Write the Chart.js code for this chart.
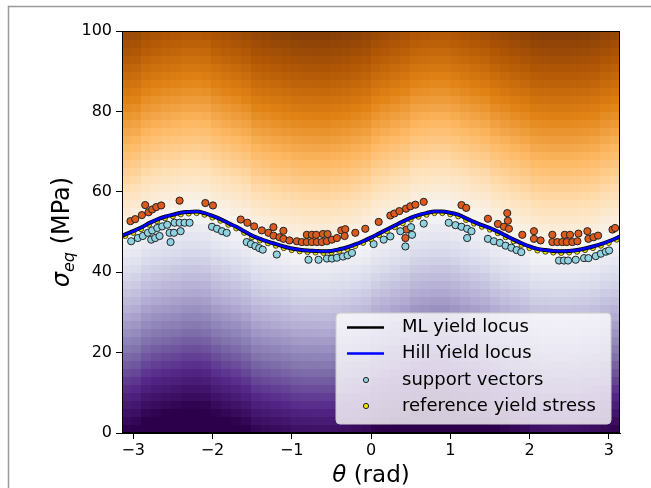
<!DOCTYPE html>
<html lang="en">
<head>
  <meta charset="UTF-8">
  <title>Yield locus</title>
  <style>
    html, body { margin: 0; padding: 0; background: #fff; }
    #wrap { width: 651px; height: 488px; }
  </style>
  <script src="https://cdn.jsdelivr.net/npm/chart.js"></script>
</head>
<body>
<div id="wrap"><canvas id="myChart" width="651" height="488"></canvas></div>
<script>
  // ---- values ----
  const xTicks = [-3, -2, -1, 0, 1, 2, 3];
  const yTicks = [0, 20, 40, 60, 80, 100];
  const legendLabels = ['ML yield locus', 'Hill Yield locus', 'support vectors', 'reference yield stress'];

  // yield locus (theta in rad, sigma_eq in MPa)
  const locusTheta = [-3.14, -3.1, -3.0, -2.9, -2.8, -2.7, -2.6, -2.5, -2.4, -2.3, -2.2, -2.1, -2.0, -1.9, -1.8, -1.7, -1.6, -1.5, -1.4, -1.3, -1.2, -1.1, -1.0, -0.9, -0.8, -0.7, -0.6, -0.5, -0.4, -0.3, -0.2, -0.1,
    0, 0.1, 0.2, 0.3, 0.4, 0.5, 0.6, 0.7, 0.8, 0.9, 1.0, 1.1, 1.2, 1.3, 1.4, 1.5, 1.6, 1.7, 1.8, 1.9, 2.0, 2.1, 2.2, 2.3, 2.4, 2.5, 2.6, 2.7, 2.8, 2.9, 3.0, 3.1, 3.14];
  const mlSigma = [49.0, 49.4, 50.2, 51.1, 52.2, 53.1, 53.8, 54.3, 54.8, 55.0, 55.1, 54.7, 54.0, 53.2, 52.2, 51.3, 50.2, 49.1, 48.3, 47.6, 47.0, 46.4, 45.9, 45.6, 45.4, 45.3, 45.2, 45.3, 45.7, 46.2, 46.9, 47.7,
    48.6, 49.6, 50.6, 51.6, 52.6, 53.5, 54.2, 54.7, 55.1, 55.1, 54.8, 54.3, 53.4, 52.5, 51.7, 51.0, 50.1, 49.1, 48.1, 47.2, 46.4, 45.8, 45.5, 45.3, 45.2, 45.3, 45.5, 45.9, 46.4, 47.0, 47.7, 48.5, 48.9];
  const hillSigma = [49.0, 49.4, 50.2, 51.1, 52.2, 53.1, 53.8, 54.3, 54.8, 55.0, 55.1, 54.7, 54.0, 53.2, 52.2, 51.3, 50.2, 49.1, 48.3, 47.6, 47.0, 46.4, 45.9, 45.6, 45.4, 45.3, 45.2, 45.3, 45.7, 46.2, 46.9, 47.7,
    48.6, 49.6, 50.6, 51.6, 52.6, 53.5, 54.2, 54.7, 55.1, 55.1, 54.8, 54.3, 53.4, 52.5, 51.7, 51.0, 50.1, 49.1, 48.1, 47.2, 46.4, 45.8, 45.5, 45.3, 45.2, 45.3, 45.5, 45.9, 46.4, 47.0, 47.7, 48.5, 48.9];

  // reference yield stress points
  const refTheta = [-3.1, -3.0, -2.9, -2.8, -2.7, -2.6, -2.5, -2.4, -2.3, -2.2, -2.1, -2.0, -1.9, -1.8, -1.7, -1.6, -1.5, -1.4, -1.3, -1.2, -1.1, -1.0, -0.9, -0.8, -0.7, -0.6, -0.5, -0.4, -0.3, -0.2, -0.1,
    0, 0.1, 0.2, 0.3, 0.4, 0.5, 0.6, 0.7, 0.8, 0.9, 1.0, 1.1, 1.2, 1.3, 1.4, 1.5, 1.6, 1.7, 1.8, 1.9, 2.0, 2.1, 2.2, 2.3, 2.4, 2.5, 2.6, 2.7, 2.8, 2.9, 3.0, 3.1];
  const refSigma = [49.0, 49.8, 50.7, 51.8, 52.7, 53.4, 53.9, 54.4, 54.6, 54.7, 54.3, 53.6, 52.8, 51.8, 50.9, 49.8, 48.7, 47.9, 47.2, 46.6, 46.0, 45.5, 45.2, 45.0, 44.9, 44.8, 44.9, 45.3, 45.8, 46.5, 47.3,
    48.2, 49.2, 50.2, 51.2, 52.2, 53.1, 53.8, 54.3, 54.7, 54.7, 54.4, 53.9, 53.0, 52.1, 51.3, 50.6, 49.7, 48.7, 47.7, 46.8, 46.0, 45.4, 45.1, 44.9, 44.8, 44.9, 45.1, 45.5, 46.0, 46.6, 47.3, 48.1];

  // support vectors below the locus [theta, sigma]
  const supportVectors = [
    [-3.026, 47.7], [-2.942, 48.5], [-2.879, 49.0], [-2.815, 49.8], [-2.761, 50.4], [-2.697, 51.0], [-2.634, 51.4], [-2.571, 51.8],
    [-2.478, 52.3], [-2.415, 52.3], [-2.352, 52.3], [-2.289, 52.3], [-2.773, 48.1], [-2.723, 48.5], [-2.668, 49.0], [-2.541, 49.8],
    [-2.486, 49.8], [-2.402, 50.2], [-2.529, 47.5], [-2.006, 51.3], [-1.943, 50.8], [-1.880, 50.2], [-1.821, 49.8],
    [-1.568, 47.5], [-1.515, 47.0], [-1.460, 46.5], [-1.410, 46.0], [-1.366, 45.6], [-1.189, 44.4],
    [-0.789, 43.1], [-0.662, 43.1], [-0.556, 43.4], [-0.493, 43.4], [-0.430, 43.6], [-0.354, 43.9], [-0.296, 44.2], [-0.240, 44.8],
    [0.033, 47.0], [0.160, 48.1], [0.244, 48.9], [0.370, 50.2], [0.505, 51.2], [0.518, 49.3], [0.434, 46.4], [0.665, 52.1],
    [0.981, 52.3], [1.066, 51.7], [1.142, 51.3], [1.213, 50.8], [1.268, 50.2], [1.213, 48.5],
    [1.475, 48.3], [1.550, 47.7], [1.626, 47.3], [1.698, 46.6], [1.770, 46.1], [1.837, 45.5], [1.896, 45.0],
    [2.372, 42.9], [2.435, 42.9], [2.486, 42.9], [2.583, 43.1], [2.688, 43.5], [2.743, 43.5], [2.836, 44.0], [2.900, 44.6], [2.963, 45.1], [3.004, 45.4]
  ];

  // support vectors above the locus [theta, sigma]
  const upperVectors = [
    [-3.035, 52.7], [-2.975, 53.2], [-2.891, 54.2], [-2.849, 56.7], [-2.807, 54.9], [-2.761, 55.6], [-2.710, 56.2], [-2.647, 56.6],
    [-2.415, 57.8], [-2.090, 57.2], [-1.994, 56.6], [-1.644, 53.1],
    [-1.560, 52.3], [-1.475, 51.4], [-1.378, 50.4], [-1.231, 51.2], [-1.294, 49.8], [-1.231, 49.1], [-1.105, 50.3], [-1.155, 48.7],
    [-1.105, 48.3], [-1.029, 47.9], [-0.936, 47.7], [-0.873, 47.5], [-0.810, 47.5], [-0.746, 47.5], [-0.683, 47.5], [-0.620, 47.5],
    [-0.557, 47.7], [-0.493, 48.1], [-0.810, 49.3], [-0.746, 49.3], [-0.691, 49.3], [-0.607, 49.5], [-0.548, 49.5], [-0.375, 50.4],
    [-0.325, 50.7], [-0.430, 48.5], [-0.333, 49.0], [-0.198, 49.8],
    [-0.072, 50.8], [0.097, 52.5], [0.244, 54.1], [0.295, 54.6], [0.358, 55.2], [0.442, 55.8], [0.497, 56.4], [0.560, 56.8],
    [0.665, 57.5], [1.142, 56.7], [1.201, 56.0], [0.446, 50.6], [0.434, 48.5],
    [1.475, 53.3], [1.601, 52.0], [1.719, 54.7], [1.727, 52.8], [1.677, 51.3], [1.740, 50.8], [1.909, 49.3], [2.056, 50.2],
    [2.056, 48.3], [2.140, 47.9], [2.288, 49.3], [2.288, 47.5], [2.351, 47.5], [2.414, 47.5], [2.469, 47.5], [2.540, 47.5],
    [2.604, 47.7], [2.444, 49.3], [2.511, 49.3], [2.617, 49.6], [2.730, 50.2], [2.743, 48.3], [2.806, 48.7], [2.865, 49.1],
    [3.047, 50.6], [3.080, 51.0]
  ];

  // background map: 50 x 50 cells, value = sigma - locus at that column
  const gridCols = 50;
  const gridRows = 50;
  const puor = ['#2d004b', '#542788', '#8073ac', '#b2abd2', '#d8daeb', '#f7f7f7', '#fee0b6', '#fdb863', '#e08214', '#b35806', '#7f3b08'];

  function hexRgb(h) {
    return [parseInt(h.substr(1, 2), 16), parseInt(h.substr(3, 2), 16), parseInt(h.substr(5, 2), 16)];
  }
  function cmap(t) {
    t = Math.max(0, Math.min(1, t)) * (puor.length - 1);
    const i = Math.min(Math.floor(t), puor.length - 2);
    const f = t - i;
    const a = hexRgb(puor[i]), b = hexRgb(puor[i + 1]);
    return 'rgb(' + a.map((v, k) => Math.round(v + (b[k] - v) * f)).join(',') + ')';
  }
  function nearestLocus(th) {
    let best = 0;
    locusTheta.forEach((v, i) => { if (Math.abs(v - th) < Math.abs(locusTheta[best] - th)) best = i; });
    return mlSigma[best];
  }

  const FONT = "'DejaVu Sans', sans-serif";
  const minus = v => String(v).replace('-', '\u2212');

  const heatmap = {
    id: 'heatmap',
    beforeDatasetsDraw(chart) {
      const { ctx, chartArea, scales: { x, y } } = chart;
      const w = 2 * Math.PI / gridCols, h = 100 / gridRows;
      ctx.save();
      ctx.beginPath();
      ctx.rect(chartArea.left, chartArea.top, chartArea.width, chartArea.height);
      ctx.clip();
      for (let j = 0; j < gridCols; j++) {
        const t0 = -Math.PI + j * w;
        const loc = nearestLocus(t0 + w / 2);
        const x0 = Math.floor(x.getPixelForValue(t0));
        const x1 = Math.ceil(x.getPixelForValue(t0 + w));
        for (let i = 0; i < gridRows; i++) {
          const s0 = i * h;
          const d = (s0 + h / 2) - loc;
          ctx.fillStyle = cmap(0.5 + (d < 0 ? d / 98 : d / 111));
          const y0 = Math.floor(y.getPixelForValue(s0 + h));
          const y1 = Math.ceil(y.getPixelForValue(s0));
          ctx.fillRect(x0, y0, x1 - x0, y1 - y0);
        }
      }
      ctx.restore();
    },
    afterDatasetsDraw(chart) {
      const { ctx, chartArea: a } = chart;
      ctx.save();
      // axes box
      ctx.strokeStyle = '#000';
      ctx.lineWidth = 1;
      ctx.strokeRect(a.left + 0.5, a.top + 0.5, a.width - 1, a.height - 1);

      // legend
      const bx = 336, by = 313, bw = 275, bh = 111;
      ctx.beginPath();
      ctx.roundRect(bx, by, bw, bh, 4);
      ctx.fillStyle = 'rgba(255,255,255,0.8)';
      ctx.fill();
      ctx.strokeStyle = '#cccccc';
      ctx.stroke();
      const rows = [327.5, 353.5, 380, 406];
      ctx.lineWidth = 2.5;
      ctx.strokeStyle = '#000';
      ctx.beginPath(); ctx.moveTo(347, rows[0]); ctx.lineTo(384, rows[0]); ctx.stroke();
      ctx.strokeStyle = '#0000ff';
      ctx.beginPath(); ctx.moveTo(347, rows[1]); ctx.lineTo(384, rows[1]); ctx.stroke();
      ctx.lineWidth = 1;
      ctx.strokeStyle = '#222';
      ctx.fillStyle = '#8fd2e2';
      ctx.beginPath(); ctx.arc(366, rows[2], 2.6, 0, 2 * Math.PI); ctx.fill(); ctx.stroke();
      ctx.fillStyle = '#f2e600';
      ctx.beginPath(); ctx.arc(366, rows[3], 2.6, 0, 2 * Math.PI); ctx.fill(); ctx.stroke();
      ctx.fillStyle = '#000';
      ctx.font = '18px ' + FONT;
      ctx.textBaseline = 'middle';
      ctx.textAlign = 'left';
      legendLabels.forEach((txt, i) => ctx.fillText(txt, 402, rows[i]));
      ctx.restore();
    },
    afterDraw(chart) {
      const { ctx, chartArea: a } = chart;
      ctx.save();
      // figure frame (top + left)
      ctx.strokeStyle = '#999';
      ctx.lineWidth = 1.5;
      ctx.beginPath();
      ctx.moveTo(8.5, 488); ctx.lineTo(8.5, 6.5); ctx.lineTo(651, 6.5);
      ctx.stroke();

      ctx.fillStyle = '#000';
      ctx.textBaseline = 'alphabetic';
      ctx.textAlign = 'left';
      // x title: theta (rad)
      const italic = 'italic 23px ' + FONT, normal = '23px ' + FONT;
      ctx.font = italic; const wTh = ctx.measureText('\u03b8').width;
      ctx.font = normal; const wRad = ctx.measureText(' (rad)').width;
      let sx = (a.left + a.right) / 2 - (wTh + wRad) / 2;
      ctx.font = italic; ctx.fillText('\u03b8', sx, 482);
      ctx.font = normal; ctx.fillText(' (rad)', sx + wTh, 482);

      // y title: sigma_eq (MPa)
      const yItalic = 'italic 24px ' + FONT, yNormal = '24px ' + FONT;
      ctx.translate(69, (a.top + a.bottom) / 2);
      ctx.rotate(-Math.PI / 2);
      const sub = 'italic 16px ' + FONT;
      ctx.font = yItalic; const wS = ctx.measureText('\u03c3').width;
      ctx.font = sub; const wE = ctx.measureText('eq').width;
      ctx.font = yNormal; const wM = ctx.measureText(' (MPa)').width;
      let px = -(wS + wE + wM) / 2;
      ctx.font = yItalic; ctx.fillText('\u03c3', px, 0);
      ctx.font = sub; ctx.fillText('eq', px + wS, 5);
      ctx.font = yNormal; ctx.fillText(' (MPa)', px + wS + wE, 0);
      ctx.restore();
    }
  };

  const toXY = (xs, ys) => xs.map((v, i) => ({ x: v, y: ys[i] }));
  const pairs = arr => arr.map(p => ({ x: p[0], y: p[1] }));

  const ctx = document.getElementById('myChart').getContext('2d');
  const myChart = new Chart(ctx, {
    type: 'scatter',
    data: {
      datasets: [
        {
          type: 'line', label: legendLabels[1], data: toXY(locusTheta, hillSigma),
          borderColor: '#0000ff', borderWidth: 2.6, pointRadius: 0, cubicInterpolationMode: 'monotone', order: 0
        },
        {
          type: 'line', label: legendLabels[0], data: toXY(locusTheta, mlSigma),
          borderColor: '#000', borderWidth: 4, pointRadius: 0, cubicInterpolationMode: 'monotone', order: 1
        },
        {
          label: legendLabels[3], data: toXY(refTheta, refSigma),
          backgroundColor: '#f2e600', borderColor: '#222', borderWidth: 0.8, pointRadius: 2.6, order: 2
        },
        {
          label: legendLabels[2], data: pairs(supportVectors),
          backgroundColor: '#8fd2e2', borderColor: '#222', borderWidth: 1, pointRadius: 3.6, order: 3
        },
        {
          label: 'upper', data: pairs(upperVectors),
          backgroundColor: '#db5a1e', borderColor: '#222', borderWidth: 1, pointRadius: 3.6, order: 4
        }
      ]
    },
    options: {
      responsive: false,
      animation: false,
      events: [],
      layout: { padding: { top: 31, right: 31, left: 0, bottom: 0 } },
      plugins: { legend: { display: false }, tooltip: { enabled: false } },
      scales: {
        x: {
          type: 'linear', min: -Math.PI, max: Math.PI,
          afterBuildTicks: s => { s.ticks = xTicks.map(v => ({ value: v })); },
          afterFit: s => { s.height = 55; },
          ticks: { font: { family: FONT, size: 16 }, color: '#000', padding: 2, maxRotation: 0, autoSkip: false, callback: v => minus(v) },
          grid: { drawOnChartArea: false, color: '#000', tickLength: 6 },
          border: { display: true, color: '#000' }
        },
        y: {
          min: 0, max: 100,
          afterBuildTicks: s => { s.ticks = yTicks.map(v => ({ value: v })); },
          afterFit: s => { s.width = 122; },
          ticks: { font: { family: FONT, size: 16 }, color: '#000', padding: 4, autoSkip: false, callback: v => minus(v) },
          grid: { drawOnChartArea: false, color: '#000', tickLength: 6 },
          border: { display: true, color: '#000' }
        }
      }
    },
    plugins: [heatmap]
  });
</script>
</body>
</html>
